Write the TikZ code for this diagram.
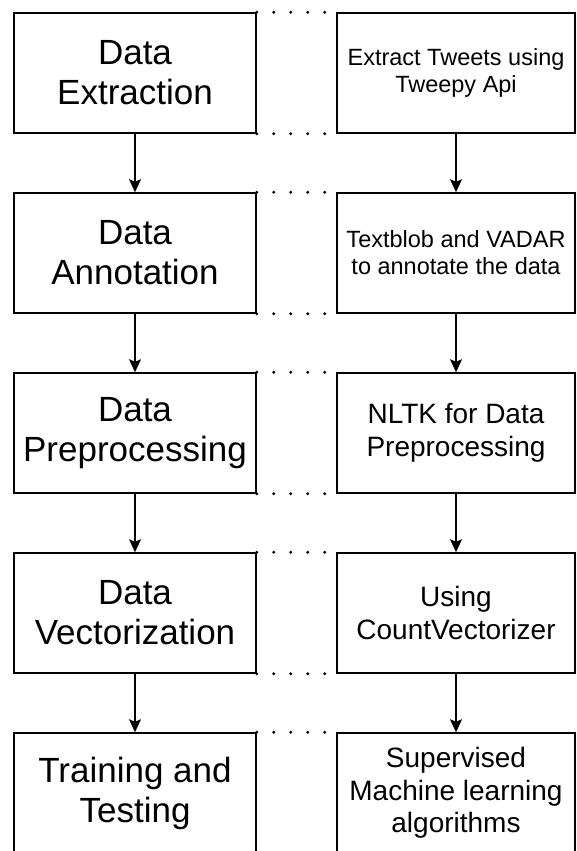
\documentclass[tikz,border=0pt]{standalone}
\usepackage{fontspec}
\setmainfont{Liberation Sans}
\usetikzlibrary{arrows.meta}
\tikzset{
  box/.style={draw=black, line width=1.5pt, rectangle, inner sep=0pt, align=center, fill=white},
  leftbox/.style={box, minimum width=242pt, minimum height=120pt, font=\fontsize{35pt}{40pt}\selectfont},
  rightbox/.style={box, minimum width=238pt, minimum height=120pt},
  smalltxt/.style={font=\fontsize{23.5pt}{27pt}\selectfont},
  bigtxt/.style={font=\fontsize{28pt}{32.5pt}\selectfont},
  arr/.style={draw=black, line width=1.5pt, -{Stealth[length=13pt,width=12pt,inset=2.5pt]}},
  dotline/.style={draw=black, line width=3.2pt, line cap=round, dash pattern=on 0pt off 17pt}
}
\begin{document}
\begin{tikzpicture}[x=1pt,y=-1pt]
\useasboundingbox (0,0) rectangle (577,851);
\clip (0,0) rectangle (577,851);
\fill[white] (0,0) rectangle (577,851);
% left column
\node[leftbox] (L1) at (135,73) {Data\\Extraction};
\node[leftbox] (L2) at (135,253) {Data\\Annotation};
\node[leftbox] (L3) at (135,433) {Data\\Preprocessing};
\node[leftbox] (L4) at (135,613) {Data\\Vectorization};
\node[leftbox] (L5) at (135,793) {Training and\\Testing};
% right column
\node[rightbox, smalltxt] (R1) at (456,73) {Extract Tweets using\\Tweepy Api};
\node[rightbox, smalltxt] (R2) at (456,253) {Textblob and VADAR\\to annotate the data};
\node[rightbox, bigtxt] (R3) at (456,433) {NLTK for Data\\Preprocessing};
\node[rightbox, bigtxt] (R4) at (456,613) {Using\\CountVectorizer};
\node[rightbox, bigtxt] (R5) at (456,793) {Supervised\\Machine learning\\algorithms};
% arrows
\foreach \a/\b in {1/2,2/3,3/4,4/5}{
  \draw[arr] (L\a.south) -- (L\b.north);
  \draw[arr] (R\a.south) -- (R\b.north);
}
% dotted links
\foreach \i in {1,...,5}{
  \draw[dotline] (L\i.north east) -- (R\i.north west);
  \draw[dotline] (L\i.south east) -- (R\i.south west);
}
\end{tikzpicture}
\end{document}
